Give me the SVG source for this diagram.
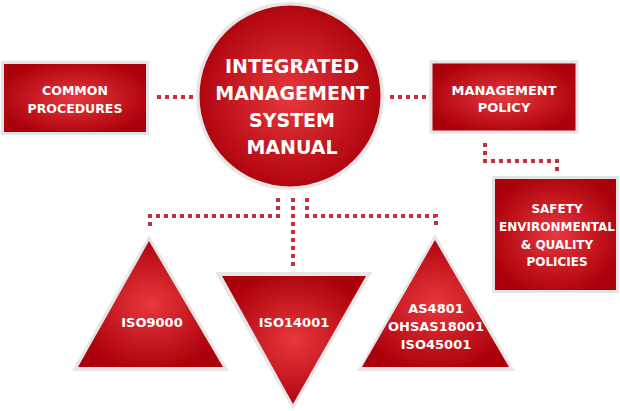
<svg xmlns="http://www.w3.org/2000/svg" width="620" height="411" viewBox="0 0 620 411">
<defs>
<radialGradient id="rg" cx="50%" cy="50%" r="55%">
<stop offset="0" stop-color="#e8383d"/>
<stop offset="1" stop-color="#ab000b"/>
</radialGradient>
<style>
.box{fill:url(#rg);stroke:#e4e4e4;stroke-width:3}
.edge{fill:#e6e6e6}
.red{fill:url(#rg)}
.t{font-family:"DejaVu Sans",Verdana,sans-serif;font-weight:bold;fill:#ffffff;text-anchor:middle}
.dot{fill:none;stroke:#c1323c;stroke-width:4;stroke-dasharray:4 4}
</style>
</defs>
<rect width="620" height="411" fill="#ffffff"/>
<g id="connectors">
<path class="dot" d="M157 97 H193"/>
<path class="dot" d="M390 97 H426"/>
<path class="dot" d="M485 143 V161 H557 V171"/>
<path class="dot" d="M278 198 V216 H150 V227"/>
<path class="dot" d="M293 198 V267"/>
<path class="dot" d="M307 198 V216 H436 V227"/>
</g>
<g id="common-procedures">
<rect class="box" x="2.5" y="62.5" width="145" height="71"/>
<text class="t" font-size="12.5" x="75" y="95">COMMON</text>
<text class="t" font-size="12.5" x="75" y="113">PROCEDURES</text>
</g>
<g id="ims-manual">
<circle cx="290" cy="96" r="94" fill="#e6e6e6"/>
<circle cx="290" cy="96" r="90.5" class="red"/>
<text class="t" font-size="19" x="292" y="73">INTEGRATED</text>
<text class="t" font-size="19" x="292" y="100">MANAGEMENT</text>
<text class="t" font-size="19" x="292" y="127">SYSTEM</text>
<text class="t" font-size="19" x="292" y="154">MANUAL</text>
</g>
<g id="management-policy">
<rect class="box" x="431" y="62" width="146" height="70"/>
<text class="t" font-size="13" x="504" y="95">MANAGEMENT</text>
<text class="t" font-size="13" x="504" y="112">POLICY</text>
</g>
<g id="policies">
<rect class="box" x="493.5" y="177.5" width="124" height="114"/>
<text class="t" font-size="12" x="557" y="213">SAFETY</text>
<text class="t" font-size="12" x="557" y="231">ENVIRONMENTAL</text>
<text class="t" font-size="12" x="557" y="249">&amp; QUALITY</text>
<text class="t" font-size="12" x="557" y="266">POLICIES</text>
</g>
<g id="iso9000">
<polygon class="edge" points="149,235 229,371 72,371"/>
<polygon class="red" points="149,241 223,367 78,367"/>
<text class="t" font-size="13" x="152" y="327">ISO9000</text>
</g>
<g id="iso14001">
<polygon class="edge" points="215,272 372,272 293,410"/>
<polygon class="red" points="222,276 366,276 293,404"/>
<text class="t" font-size="13" x="294" y="327">ISO14001</text>
</g>
<g id="ohsas">
<polygon class="edge" points="435,234 515,371 357,371"/>
<polygon class="red" points="435,240 509,367 362,367"/>
<text class="t" font-size="13" x="436" y="313">AS4801</text>
<text class="t" font-size="13" x="436" y="331">OHSAS18001</text>
<text class="t" font-size="13" x="436" y="349">ISO45001</text>
</g>
</svg>
